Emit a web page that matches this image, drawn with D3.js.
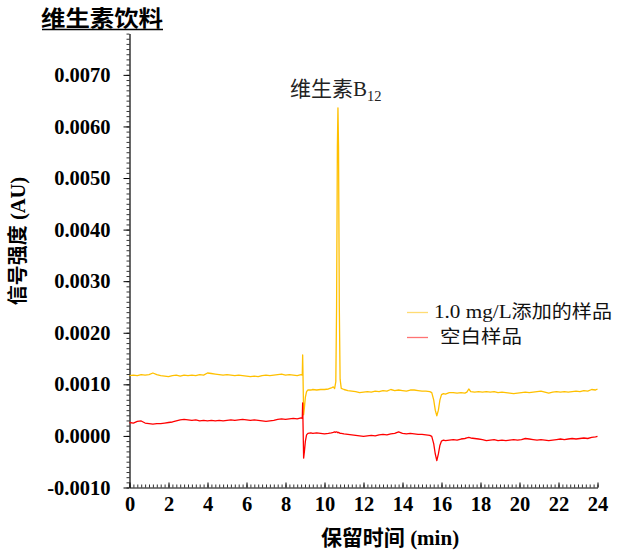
<!DOCTYPE html>
<html><head><meta charset="utf-8">
<script src="https://cdn.jsdelivr.net/npm/d3@7"></script>
<style>body{margin:0;background:#fff}svg{display:block}</style>
</head><body>
<svg id="c" width="618" height="555"></svg>
<script>
// retention time (min)
const timeMin = [
  0,0.2,0.4,0.6,0.8,1.0,1.2,1.4,1.6,1.8,
  2.0,2.2,2.4,2.6,2.8,3.0,3.2,3.4,3.6,3.8,
  4.0,4.2,4.4,4.6,4.8,5.0,5.2,5.4,5.6,5.8,
  6.0,6.2,6.4,6.6,6.8,7.0,7.2,7.4,7.6,7.8,
  8.0,8.2,8.4,8.6,8.8,8.86,8.88,8.90,8.93,8.97,
  9.02,9.08,9.15,9.3,9.4,9.6,9.8,10.0,10.2,10.35,
  10.45,10.52,10.58,10.62,10.66,10.69,10.72,10.76,10.8,10.86,
  11.0,11.2,11.4,11.6,11.8,12.0,12.2,12.4,12.6,12.8,
  13.0,13.2,13.4,13.6,13.8,14.0,14.2,14.4,14.6,14.8,
  15.0,15.2,15.4,15.5,15.6,15.68,15.76,15.84,15.92,16.0,
  16.1,16.2,16.4,16.6,16.8,17.0,17.2,17.3,17.4,17.5,
  17.7,17.9,18.1,18.3,18.5,18.7,18.9,19.1,19.3,19.5,
  19.7,19.9,20.1,20.3,20.5,20.7,20.9,21.1,21.3,21.5,
  21.7,21.9,22.1,22.3,22.5,22.7,22.9,23.1,23.3,23.5,
  23.7,23.9,24.0
];
// 1.0 mg/L spiked sample (AU)
const spikedSample = [
  0.00117,0.00118,0.00117,0.00119,0.00118,0.00119,0.00122,0.00119,0.00117,0.00116,
  0.00115,0.00117,0.00118,0.00116,0.00118,0.00117,0.00118,0.00117,0.00119,0.00118,
  0.00122,0.00121,0.00120,0.00119,0.00118,0.00119,0.00118,0.00117,0.00118,0.00117,
  0.00116,0.00115,0.00116,0.00115,0.00117,0.00118,0.00117,0.00118,0.00119,0.00120,
  0.00118,0.00119,0.00118,0.00117,0.00119,0.00118,0.00157,0.00112,0.00041,0.00055,
  0.00075,0.00086,0.00089,0.00089,0.00090,0.00089,0.00090,0.00090,0.00091,0.00093,
  0.00095,0.00092,0.00105,0.00250,0.00560,0.00636,0.00560,0.00250,0.00110,0.00092,
  0.00090,0.00088,0.00087,0.00086,0.00084,0.00085,0.00086,0.00085,0.00087,0.00086,
  0.00088,0.00087,0.00090,0.00088,0.00089,0.00088,0.00087,0.00089,0.00089,0.00088,
  0.00087,0.00087,0.00086,0.00084,0.00070,0.00050,0.00039,0.00050,0.00070,0.00080,
  0.00082,0.00081,0.00084,0.00084,0.00083,0.00084,0.00083,0.00085,0.00091,0.00086,
  0.00085,0.00086,0.00085,0.00086,0.00085,0.00086,0.00084,0.00085,0.00084,0.00083,
  0.00082,0.00083,0.00084,0.00085,0.00084,0.00085,0.00086,0.00087,0.00085,0.00083,
  0.00085,0.00086,0.00085,0.00086,0.00085,0.00086,0.00087,0.00086,0.00088,0.00087,
  0.00090,0.00089,0.00091
];
// blank sample (AU)
const blankSample = [
  0.00026,0.00025,0.00028,0.00029,0.00025,0.00024,0.00023,0.00024,0.00024,0.00025,
  0.00026,0.00027,0.00029,0.00031,0.00032,0.00031,0.00030,0.00031,0.00029,0.00030,
  0.00029,0.00030,0.00029,0.00030,0.00029,0.00030,0.00031,0.00030,0.00031,0.00032,
  0.00031,0.00030,0.00031,0.00030,0.00029,0.00028,0.00029,0.00030,0.00032,0.00033,
  0.00032,0.00033,0.00034,0.00033,0.00035,0.00034,0.00064,0.00020,-0.00043,-0.00030,
  -0.00010,0.00002,0.00005,0.00006,0.00005,0.00006,0.00005,0.00004,0.00005,0.00006,
  0.00007,0.00008,0.00007,0.00008,0.00007,0.00006,0.00007,0.00006,0.00005,0.00005,
  0.00004,0.00003,0.00002,0.00001,0.00000,-0.00001,0.00000,0.00001,0.00000,0.00002,
  0.00003,0.00002,0.00004,0.00005,0.00008,0.00005,0.00004,0.00005,0.00004,0.00003,
  0.00003,0.00002,0.00001,-0.00001,-0.00015,-0.00035,-0.00048,-0.00035,-0.00018,-0.00010,
  -0.00008,-0.00009,-0.00008,-0.00007,-0.00008,-0.00006,-0.00005,-0.00004,-0.00003,-0.00004,
  -0.00005,-0.00006,-0.00007,-0.00009,-0.00008,-0.00007,-0.00009,-0.00008,-0.00009,-0.00008,
  -0.00007,-0.00008,-0.00007,-0.00005,-0.00006,-0.00007,-0.00008,-0.00007,-0.00008,-0.00009,
  -0.00008,-0.00007,-0.00006,-0.00007,-0.00006,-0.00005,-0.00006,-0.00005,-0.00004,-0.00005,
  -0.00003,-0.00002,-0.00001
];
const seriesNames = ["1.0 mg/L添加的样品", "空白样品"];
const seriesColors = ["#FFC000", "#FF0000"];
const yTicks = [-0.001, 0, 0.001, 0.002, 0.003, 0.004, 0.005, 0.006, 0.007];
const xTicks = [0, 2, 4, 6, 8, 10, 12, 14, 16, 18, 20, 22, 24];
const titleText = "维生素饮料";
const peakLabel = { name: "维生素", base: "B", sub: "12", time: 10.69 };
const xTitle = ["保留时间", " (min)"];
const yTitle = ["信号强度", " (AU)"];

const SERIF = "'Liberation Serif','Times New Roman',serif";
const CJK = "'Noto Sans CJK SC',sans-serif";

const svg = d3.select("#c");
const x = d3.scaleLinear().domain([0, 24]).range([129.5, 597.5]);
const y = d3.scaleLinear().domain([-0.001, 0.0078]).range([487.5, 33.6]);

// title
svg.append("text").attr("x", 41).attr("y", 25.5)
  .attr("font-family", CJK).attr("font-weight", 700).attr("font-size", 22)
  .attr("textLength", 122).attr("lengthAdjust", "spacingAndGlyphs")
  .attr("fill", "#000").text(titleText);
svg.append("line").attr("x1", 42).attr("x2", 163).attr("y1", 29.5).attr("y2", 29.5)
  .attr("stroke", "#000").attr("stroke-width", 1.5);

// y axis minor
const yMinor = d3.range(-10, 79).map(i => +(i * 1e-4).toFixed(4));
svg.append("g").attr("transform", "translate(129.5,0)")
  .call(d3.axisLeft(y).tickValues(yMinor).tickSize(3).tickSizeOuter(0).tickFormat(""))
  .call(g => g.select(".domain").remove())
  .selectAll("line").attr("stroke", "#333");
const gy = svg.append("g").attr("transform", "translate(129.5,0)")
  .call(d3.axisLeft(y).tickValues(yTicks).tickSize(6).tickSizeOuter(0).tickPadding(13)
    .tickFormat(d => d.toFixed(4)));
gy.select(".domain").attr("stroke", "#000").attr("stroke-width", 1.2);
gy.selectAll("line").attr("stroke", "#000");
gy.selectAll("text").attr("font-family", SERIF).attr("font-weight", 700)
  .attr("font-size", 20.5).attr("fill", "#000");

// x axis
const xMinor = d3.range(0, 121).map(i => +(i * 0.2).toFixed(1));
svg.append("g").attr("transform", `translate(0,${y(-0.001)})`)
  .call(d3.axisBottom(x).tickValues(xMinor).tickSize(-3).tickSizeOuter(0).tickFormat(""))
  .call(g => g.select(".domain").remove())
  .selectAll("line").attr("stroke", "#333");
const gx = svg.append("g").attr("transform", `translate(0,${y(-0.001)})`)
  .call(d3.axisBottom(x).tickValues(xTicks).tickSize(-5).tickSizeOuter(0).tickPadding(9));
gx.select(".domain").attr("stroke", "#000").attr("stroke-width", 1.2);
gx.selectAll("line").attr("stroke", "#000");
gx.selectAll("text").attr("font-family", SERIF).attr("font-weight", 700)
  .attr("font-size", 20.5).attr("fill", "#000");

// traces
const line = d3.line().x(d => x(d[0])).y(d => y(d[1]));
[spikedSample, blankSample].forEach((vals, i) => {
  svg.append("path").datum(timeMin.map((t, k) => [t, vals[k]]))
    .attr("d", line).attr("fill", "none")
    .attr("stroke", seriesColors[i]).attr("stroke-width", 1.3)
    .attr("stroke-linejoin", "round");
});

// peak label
const pl = svg.append("text").attr("x", x(peakLabel.time) - 48).attr("y", 96)
  .attr("font-size", 21).attr("fill", "#222");
pl.append("tspan").attr("font-family", CJK).text(peakLabel.name);
pl.append("tspan").attr("font-family", SERIF).text(peakLabel.base);
pl.append("tspan").attr("font-family", SERIF).attr("font-size", 14.5).attr("dy", 5).text(peakLabel.sub);

// legend
const legendY = [312.5, 337.5];
const legendWidth = [178, 82];
seriesNames.forEach((name, i) => {
  svg.append("line").attr("x1", 407).attr("x2", 428)
    .attr("y1", legendY[i]).attr("y2", legendY[i])
    .attr("stroke", seriesColors[i]).attr("stroke-opacity", 0.55).attr("stroke-width", 1.3);
  const t = svg.append("text").attr("x", i === 0 ? 434 : 440).attr("y", legendY[i] + 5.5)
    .attr("font-size", 19.5).attr("fill", "#111")
    .attr("textLength", legendWidth[i]).attr("lengthAdjust", "spacingAndGlyphs");
  if (i === 0) {
    t.append("tspan").attr("font-family", SERIF).text("1.0 mg/L");
    t.append("tspan").attr("font-family", CJK).attr("font-size", 18.5).text("添加的样品");
  } else {
    t.append("tspan").attr("font-family", CJK).attr("font-size", 18.5).text(name);
  }
});

// axis titles
const xt = svg.append("text").attr("x", 390).attr("y", 545)
  .attr("text-anchor", "middle").attr("font-weight", 700).attr("fill", "#000");
xt.append("tspan").attr("font-family", CJK).attr("font-size", 21).text(xTitle[0]);
xt.append("tspan").attr("font-family", SERIF).attr("font-size", 21).text(xTitle[1]);

const yt = svg.append("text").attr("transform", "translate(25,241) rotate(-90)")
  .attr("text-anchor", "middle").attr("font-weight", 700).attr("fill", "#000");
yt.append("tspan").attr("font-family", CJK).attr("font-size", 20).text(yTitle[0]);
yt.append("tspan").attr("font-family", SERIF).attr("font-size", 20.5).text(yTitle[1]);
</script>
</body></html>
